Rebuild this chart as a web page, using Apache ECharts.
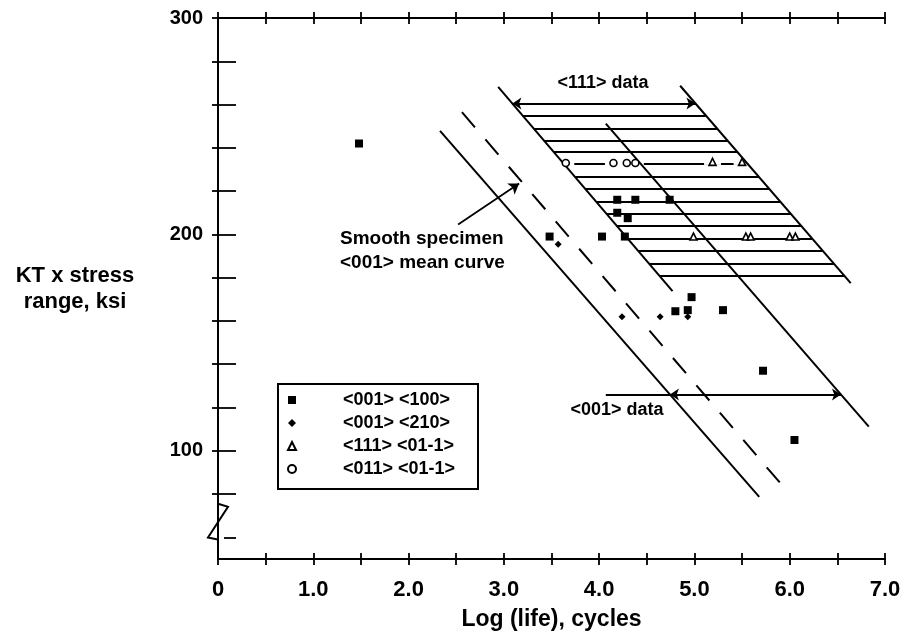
<!DOCTYPE html>
<html>
<head>
<meta charset="utf-8">
<script src="https://cdn.jsdelivr.net/npm/echarts@6/dist/echarts.min.js"></script>
<style>
  html, body { margin: 0; padding: 0; background: #fff; }
  #chart { width: 909px; height: 637px; }
</style>
</head>
<body>
<div id="chart"></div>
<script>
// Fatigue specimens: [log (life) cycles, KT x stress range in ksi]
const sq001_100  = [[1.48, 242], [3.48, 199], [4.03, 199], [4.27, 199], [4.19, 216], [4.38, 216],
                    [4.74, 216], [4.19, 210], [4.30, 207.5], [4.97, 171], [4.80, 164.5], [4.93, 165],
                    [5.30, 165], [5.72, 137], [6.05, 105]];
const dia001_210 = [[3.57, 195.5], [4.24, 162], [4.64, 162], [4.93, 162]];
const tri111_011 = [[5.19, 233.5], [5.50, 233.5], [4.99, 199], [5.54, 199], [5.59, 199], [6.00, 199], [6.06, 199]];
const circ011_011 = [[3.65, 233], [4.15, 233], [4.29, 233], [4.38, 233]];

// Life lines (two end points each)
const meanCurve001   = [[2.56, 256.5], [5.92, 84.1]];   // smooth specimen <001> mean curve (dashed)
const band001Lower   = [[2.33, 247.8], [5.68, 78.7]];
const band001Upper   = [[4.07, 251.2], [6.83, 111.2]];
const band111Lower   = [[2.94, 268.2], [4.77, 173.8]];
const band111Upper   = [[4.85, 268.7], [6.64, 177.5]];

// Stress levels of the <111> scatter band hatching; the top one carries the "<111> data" arrow
const hatchLevels = [181, 186.5, 192.5, 198, 204, 209.5, 215, 221, 226.5, 232.5, 238, 243.5, 249, 255, 260.5];
// "<001> data" arrow level and start of its leader
const arrow001Level = 126;
const arrow001LeaderStart = 4.07;
// pointer from the mean-curve note to the dashed line
const meanPointer = [[2.52, 204.6], [3.16, 223.5]];

// Axes
const xMin = 0, xMax = 7;
const yMin = 50, yMax = 300;
const yBreak = [75.5, 59];
const xTickValues = [0, 0.5, 1, 1.5, 2, 2.5, 3, 3.5, 4, 4.5, 5, 5.5, 6, 6.5, 7];
const xLabelValues = [0, 1, 2, 3, 4, 5, 6, 7];
const yTickValuesLeft = [80, 100, 120, 140, 160, 180, 200, 220, 240, 260, 280, 300];
const yTickValuesRight = [60, 80, 100, 120, 140, 160, 180, 200, 220, 240, 260, 280, 300];
const yLabelValues = [100, 200, 300];

const seriesNames = ['<001> <100>', '<001> <210>', '<111> <01-1>', '<011> <01-1>'];

const FONT = 'Liberation Sans, Arial, Helvetica, sans-serif';
const INK = '#000';

function xOnLine(line, y) {
  const [[x1, y1], [x2, y2]] = line;
  return x1 + (y - y1) * (x2 - x1) / (y2 - y1);
}

const hatchCoords = hatchLevels.map(y => ({ coords: [[xOnLine(band111Lower, y), y], [xOnLine(band111Upper, y), y]] }));
const topLevel = hatchLevels[hatchLevels.length - 1];
const arrow001Left = xOnLine(band001Lower, arrow001Level);
const arrow001Right = xOnLine(band001Upper, arrow001Level);

// symbols sitting on the upper hatch row interrupt that line
const rowSymbols = circ011_011.concat(tri111_011).filter(p => Math.abs(p[1] - 233) < 3);

const chart = echarts.init(document.getElementById('chart'), null, { renderer: 'canvas' });

const grid = { left: 218, top: 18, width: 667, height: 541 };

function tickAxis(dim, position, values) {
  return {
    type: 'value', position, min: dim === 'x' ? xMin : yMin, max: dim === 'x' ? xMax : yMax,
    offset: -6,
    axisLine: { show: false },
    splitLine: { show: false },
    axisLabel: { show: false },
    axisTick: { show: true, inside: false, length: 12, customValues: values, lineStyle: { color: INK, width: 1.8 } }
  };
}

function frameAxis(dim, position) {
  return {
    type: 'value', position, min: dim === 'x' ? xMin : yMin, max: dim === 'x' ? xMax : yMax,
    axisLine: { show: true, lineStyle: { color: INK, width: 2 } },
    splitLine: { show: false },
    axisTick: { show: false },
    axisLabel: { show: false }
  };
}

const lineSeries = (name, data, dashed) => ({
  type: 'line', name, data, showSymbol: false, symbol: 'none', silent: true, z: 4,
  lineStyle: { color: INK, width: 2, type: dashed ? [20, 16] : 'solid' }
});

const option = {
  backgroundColor: '#fff',
  animation: false,
  grid,
  legend: {
    orient: 'vertical', left: 278, top: 384,
    data: seriesNames,
    selectedMode: false,
    itemWidth: 8, itemHeight: 8, itemGap: 5,
    padding: [7, 20, 11, 9],
    borderColor: INK, borderWidth: 2, borderRadius: 0,
    textStyle: { fontFamily: FONT, fontWeight: 'bold', fontSize: 18, color: INK, lineHeight: 18, width: 115, padding: [0, 0, 0, 42] }
  },
  xAxis: [
    {
      type: 'value', position: 'bottom', min: xMin, max: xMax,
      axisLine: { show: true, lineStyle: { color: INK, width: 2 } },
      axisTick: { show: false },
      splitLine: { show: false },
      axisLabel: {
        customValues: xLabelValues, margin: 20, color: INK,
        fontFamily: FONT, fontWeight: 'bold', fontSize: 22,
        formatter: v => (v === 0 ? '0' : v.toFixed(1))
      },
      name: 'Log (life), cycles', nameLocation: 'middle', nameGap: 61,
      nameTextStyle: { fontFamily: FONT, fontWeight: 'bold', fontSize: 23, color: INK, verticalAlign: 'middle' }
    },
    tickAxis('x', 'bottom', xTickValues),
    frameAxis('x', 'top'),
    tickAxis('x', 'top', xTickValues)
  ],
  yAxis: [
    {
      type: 'value', position: 'left', min: yMin, max: yMax,
      axisLine: { show: false },
      axisTick: { show: false },
      splitLine: { show: false },
      axisLabel: {
        customValues: yLabelValues, margin: 15, color: INK,
        fontFamily: FONT, fontWeight: 'bold', fontSize: 20
      },
      name: 'KT x stress\nrange, ksi', nameLocation: 'middle', nameRotate: 0, nameGap: 143,
      nameTextStyle: { fontFamily: FONT, fontWeight: 'bold', fontSize: 22, color: INK, lineHeight: 26, align: 'center', verticalAlign: 'middle' }
    },
    tickAxis('y', 'left', yTickValuesLeft),
    frameAxis('y', 'right'),
    tickAxis('y', 'right', yTickValuesRight)
  ],
  graphic: [
    { type: 'text', x: 603, y: 83, style: { text: '<111> data', font: 'bold 18px ' + FONT, fill: INK, align: 'center', verticalAlign: 'middle' } },
    { type: 'text', x: 340, y: 239, style: { text: 'Smooth specimen', font: 'bold 19px ' + FONT, fill: INK, align: 'left', verticalAlign: 'middle' } },
    { type: 'text', x: 340, y: 263, style: { text: '<001> mean curve', font: 'bold 19px ' + FONT, fill: INK, align: 'left', verticalAlign: 'middle' } },
    { type: 'text', x: 617, y: 410, style: { text: '<001> data', font: 'bold 18px ' + FONT, fill: INK, align: 'center', verticalAlign: 'middle' } }
  ],
  series: [
    // left axis with its break
    {
      type: 'custom', coordinateSystem: 'cartesian2d', silent: true, clip: false, z: 6,
      data: [[xMin, yMax]],
      renderItem(params, api) {
        const top = api.coord([xMin, yMax]);
        const b1 = api.coord([xMin, yBreak[0]]);
        const b2 = api.coord([xMin, yBreak[1]]);
        const bot = api.coord([xMin, yMin]);
        return {
          type: 'polyline',
          shape: { points: [top, b1, [b1[0] + 10, b1[1] + 3], [b2[0] - 10, b2[1] - 2], b2, bot] },
          style: { stroke: INK, lineWidth: 2, fill: null }
        };
      }
    },
    // hatching of the <111> band
    {
      type: 'lines', coordinateSystem: 'cartesian2d', silent: true, z: 2,
      polyline: false, symbol: ['none', 'none'],
      lineStyle: { color: INK, width: 1.8, opacity: 1 },
      data: hatchCoords.concat([{ coords: [[arrow001LeaderStart, arrow001Level], [arrow001Left, arrow001Level]] }])
    },
    // interruptions of the symbol row
    {
      type: 'scatter', silent: true, z: 3, symbol: 'rect', symbolSize: [17, 6],
      itemStyle: { color: '#fff', opacity: 1 }, data: rowSymbols
    },
    lineSeries('band001Lower', band001Lower, false),
    lineSeries('band001Upper', band001Upper, false),
    lineSeries('band111Lower', band111Lower, false),
    lineSeries('band111Upper', band111Upper, false),
    lineSeries('meanCurve001', meanCurve001, true),
    // scatter-band arrows
    {
      type: 'lines', coordinateSystem: 'cartesian2d', silent: true, z: 4,
      symbol: ['arrow', 'arrow'], symbolSize: 9,
      lineStyle: { color: INK, width: 1.8, opacity: 1 },
      data: [
        { coords: [[xOnLine(band111Lower, topLevel), topLevel], [xOnLine(band111Upper, topLevel), topLevel]] },
        { coords: [[arrow001Left, arrow001Level], [arrow001Right, arrow001Level]] }
      ]
    },
    // pointer to the mean curve
    {
      type: 'lines', coordinateSystem: 'cartesian2d', silent: true, z: 4,
      symbol: ['none', 'arrow'], symbolSize: 10,
      lineStyle: { color: INK, width: 1.8, opacity: 1 },
      data: [{ coords: meanPointer }]
    },
    {
      type: 'scatter', name: seriesNames[0], data: sq001_100, z: 5,
      symbol: 'rect', symbolSize: 8, itemStyle: { color: INK, opacity: 1 }
    },
    {
      type: 'scatter', name: seriesNames[1], data: dia001_210, z: 5,
      symbol: 'diamond', symbolSize: 7, itemStyle: { color: INK, opacity: 1 }
    },
    {
      type: 'scatter', name: seriesNames[2], data: tri111_011, z: 5,
      symbol: 'triangle', symbolSize: 7, itemStyle: { color: '#fff', borderColor: INK, borderWidth: 1.6, opacity: 1 }
    },
    {
      type: 'scatter', name: seriesNames[3], data: circ011_011, z: 5,
      symbol: 'circle', symbolSize: 7, itemStyle: { color: '#fff', borderColor: INK, borderWidth: 1.6, opacity: 1 }
    }
  ]
};

chart.setOption(option);
</script>
</body>
</html>
